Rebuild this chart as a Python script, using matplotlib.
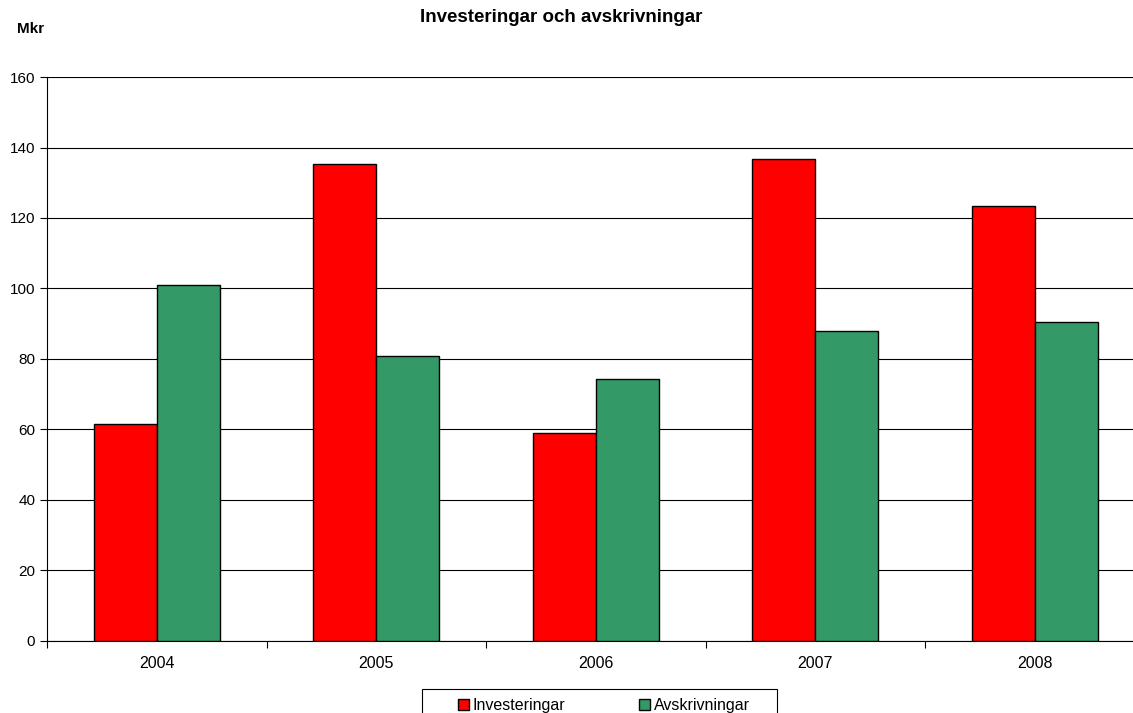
import matplotlib.pyplot as plt
from matplotlib.patches import Rectangle
import numpy as np

plt.rcParams['font.family'] = ['Liberation Sans', 'DejaVu Sans']

years = ['2004', '2005', '2006', '2007', '2008']
investeringar = [61.7, 135.3, 58.9, 136.7, 123.4]
avskrivningar = [101.1, 80.8, 74.4, 88.0, 90.5]

fig = plt.figure(figsize=(11.33, 7.13), dpi=100)
# axes run slightly past the right edge of the picture, as in the original
ax = fig.add_axes([0.0415, 0.101, 0.9687, 0.791])

x = np.arange(len(years))
w = 0.287
ax.bar(x - w / 2, investeringar, w, color='#FF0000', edgecolor='black', linewidth=1,
       label='Investeringar', zorder=3)
ax.bar(x + w / 2, avskrivningar, w, color='#339966', edgecolor='black', linewidth=1,
       label='Avskrivningar', zorder=3)

ax.set_xlim(-0.5, len(years) - 0.5)
ax.set_ylim(0, 160)
ax.set_yticks(range(0, 161, 20))
ax.yaxis.grid(True, color='black', linewidth=0.8, zorder=0)
ax.tick_params(axis='y', labelsize=11, length=5, width=0.8, colors='black')

# boundary ticks, labels centred under groups
ax.set_xticks(np.arange(-0.5, len(years), 1.0))
ax.set_xticklabels([])
ax.set_xticks(x, minor=True)
ax.set_xticklabels(years, minor=True, fontsize=11.5)
ax.tick_params(axis='x', which='major', length=5, width=0.8)
ax.tick_params(axis='x', which='minor', length=0, pad=11)

for s in ['top', 'right']:
    ax.spines[s].set_visible(False)
ax.spines['left'].set_linewidth(0.8)
ax.spines['bottom'].set_linewidth(0.8)

fig.text(0.495, 0.975, 'Investeringar och avskrivningar', ha='center', va='center',
         fontsize=13.5, fontweight='bold')
fig.text(0.015, 0.960, 'Mkr', ha='left', va='center', fontsize=11, fontweight='bold')

# legend box is wider than matplotlib's padding allows, so draw the frame by hand
leg = fig.legend(loc='center left', bbox_to_anchor=(458 / 1133, 0.011), ncol=2,
                 fontsize=11.5, frameon=False,
                 handlelength=0.68, handleheight=0.68, handletextpad=0.25,
                 columnspacing=4.6, borderpad=0, borderaxespad=0)
for h in leg.legend_handles:
    h.set_linewidth(1)
fig.patches.append(Rectangle((422 / 1133, -0.02), 355 / 1133, 0.02 + 24 / 713,
                             transform=fig.transFigure, fill=False,
                             edgecolor='black', linewidth=0.8))

fig.savefig('out.png', dpi=100)
